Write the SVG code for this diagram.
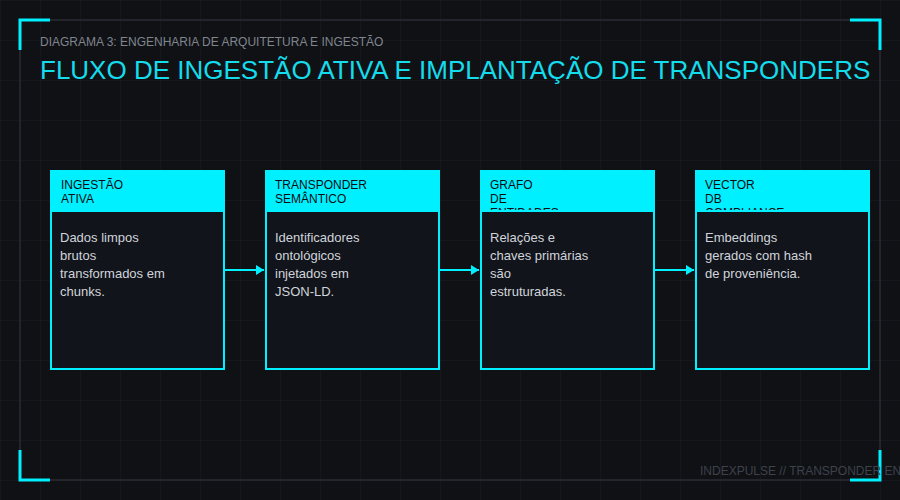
<svg xmlns="http://www.w3.org/2000/svg" width="900" height="500" viewBox="0 0 900 500">
  <defs>
    <pattern id="grid" width="40" height="40" patternUnits="userSpaceOnUse">
      <path d="M40 0 L0 0 0 40" fill="none" stroke="#1b1e24" stroke-width="1"/>
    </pattern>
    <marker id="arrow" viewBox="0 0 8 10" refX="8" refY="5" markerWidth="4" markerHeight="5" orient="auto" markerUnits="strokeWidth">
      <path d="M0 0 L8 5 L0 10 Z" fill="#00f0ff"/>
    </marker>
  </defs>
  <style>
    .hdr { fill: #00f0ff; }
    .body { fill: #12141b; stroke: #00f0ff; stroke-width: 2; }
    .htxt { font-family: "Liberation Sans", Arial, sans-serif; font-size: 12px; fill: #0b0d12; }
    .btxt { font-family: "Liberation Sans", Arial, sans-serif; font-size: 13px; fill: #d0d4da; }
    .conn { stroke: #00f0ff; stroke-width: 2; fill: none; }
    .bracket { stroke: #00f0ff; stroke-width: 3; fill: none; }
  </style>
  <rect width="900" height="500" fill="#0f1115"/>
  <rect width="900" height="500" fill="url(#grid)"/>
  <rect x="20" y="20" width="860" height="460" fill="none" stroke="#2a2d33" stroke-width="1.5"/>
  <path class="bracket" d="M20 50 V20 H50"/>
  <path class="bracket" d="M850 20 H880 V50"/>
  <path class="bracket" d="M20 450 V480 H50"/>
  <path class="bracket" d="M880 450 V480 H850"/>

  <text x="40" y="46" font-family="Liberation Sans, Arial, sans-serif" font-size="12" fill="#80858e">DIAGRAMA 3: ENGENHARIA DE ARQUITETURA E INGESTÃO</text>
  <text x="40" y="79" font-family="Liberation Sans, Arial, sans-serif" font-size="26" fill="#14dcec">FLUXO DE INGESTÃO ATIVA E IMPLANTAÇÃO DE TRANSPONDERS</text>

  <g id="connectors">
    <line class="conn" x1="225" y1="270" x2="264" y2="270" marker-end="url(#arrow)"/>
    <line class="conn" x1="440" y1="270" x2="479" y2="270" marker-end="url(#arrow)"/>
    <line class="conn" x1="655" y1="270" x2="694" y2="270" marker-end="url(#arrow)"/>
  </g>

  <g id="node-ingestao">
    <rect class="hdr" x="50" y="170" width="175" height="41"/>
    <text class="htxt" x="61" y="189">INGESTÃO</text>
    <text class="htxt" x="61" y="203">ATIVA</text>
    <rect class="body" x="51" y="211" width="173" height="158"/>
    <text class="btxt" x="60" y="242">Dados limpos</text>
    <text class="btxt" x="60" y="260">brutos</text>
    <text class="btxt" x="60" y="278">transformados em</text>
    <text class="btxt" x="60" y="296">chunks.</text>
  </g>

  <g id="node-transponder">
    <rect class="hdr" x="265" y="170" width="175" height="41"/>
    <text class="htxt" x="275" y="189">TRANSPONDER</text>
    <text class="htxt" x="275" y="203">SEMÂNTICO</text>
    <rect class="body" x="266" y="211" width="173" height="158"/>
    <text class="btxt" x="275" y="242">Identificadores</text>
    <text class="btxt" x="275" y="260">ontológicos</text>
    <text class="btxt" x="275" y="278">injetados em</text>
    <text class="btxt" x="275" y="296">JSON-LD.</text>
  </g>

  <g id="node-grafo">
    <rect class="hdr" x="480" y="170" width="175" height="41"/>
    <text class="htxt" x="490" y="189">GRAFO</text>
    <text class="htxt" x="490" y="203">DE</text>
    <text class="htxt" x="490" y="217">ENTIDADES</text>
    <rect class="body" x="481" y="211" width="173" height="158"/>
    <text class="btxt" x="490" y="242">Relações e</text>
    <text class="btxt" x="490" y="260">chaves primárias</text>
    <text class="btxt" x="490" y="278">são</text>
    <text class="btxt" x="490" y="296">estruturadas.</text>
  </g>

  <g id="node-vector">
    <rect class="hdr" x="695" y="170" width="175" height="41"/>
    <text class="htxt" x="705" y="189">VECTOR</text>
    <text class="htxt" x="705" y="203">DB</text>
    <text class="htxt" x="705" y="217">COMPLIANCE</text>
    <rect class="body" x="696" y="211" width="173" height="158"/>
    <text class="btxt" x="705" y="242">Embeddings</text>
    <text class="btxt" x="705" y="260">gerados com hash</text>
    <text class="btxt" x="705" y="278">de proveniência.</text>
  </g>

  <text x="700" y="475" font-family="Liberation Sans, Arial, sans-serif" font-size="12" fill="#3e424b">INDEXPULSE // TRANSPONDER EN</text>
</svg>
